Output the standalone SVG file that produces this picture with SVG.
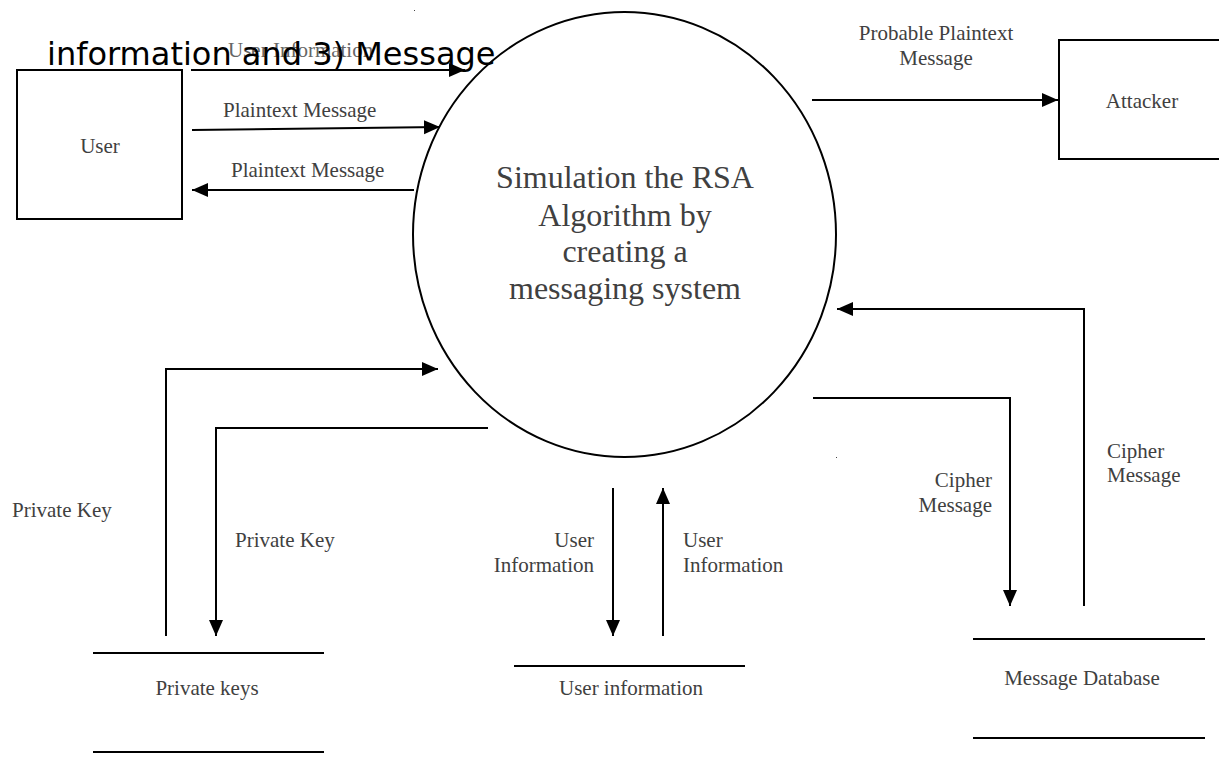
<svg xmlns="http://www.w3.org/2000/svg" width="1219" height="763" viewBox="0 0 1219 763">
<style>
.ln{fill:none;stroke:#000;stroke-width:2}
.lbl{font-family:"Liberation Serif",serif;font-size:21px;fill:#404040}
.mid{text-anchor:middle}
.end{text-anchor:end}
.big{font-family:"Liberation Serif",serif;font-size:32px;fill:#404040;text-anchor:middle}
</style>
<defs>
<marker id="ah" markerUnits="userSpaceOnUse" markerWidth="17" markerHeight="15" refX="16" refY="7" orient="auto">
<path d="M0,0 L16,7 L0,14 z" fill="#000"/>
</marker>
</defs>
<rect width="1219" height="763" fill="#fff"/>
<g id="process">
<ellipse class="ln" cx="624.5" cy="234.5" rx="211.5" ry="222.5"/>
<text class="big" x="625" y="188">Simulation the RSA</text>
<text class="big" x="625" y="226">Algorithm by</text>
<text class="big" x="625" y="262">creating a</text>
<text class="big" x="625" y="299">messaging system</text>
</g>
<g id="user">
<rect class="ln" x="17" y="70" width="165" height="149"/>
<text class="lbl mid" x="100" y="153">User</text>
</g>
<g id="attacker">
<rect class="ln" x="1059" y="40" width="170" height="119"/>
<text class="lbl mid" x="1142" y="108">Attacker</text>
</g>
<g id="private-keys">
<line class="ln" x1="93" y1="653" x2="324" y2="653"/>
<line class="ln" x1="93" y1="752" x2="324" y2="752"/>
<text class="lbl mid" x="207" y="695">Private keys</text>
</g>
<g id="user-information">
<line class="ln" x1="514" y1="666" x2="745" y2="666"/>
<text class="lbl mid" x="631" y="695">User information</text>
</g>
<g id="message-database">
<line class="ln" x1="973" y1="639" x2="1205" y2="639"/>
<line class="ln" x1="973" y1="738" x2="1205" y2="738"/>
<text class="lbl mid" x="1082" y="685">Message Database</text>
</g>
<g id="connectors">
<path class="ln" d="M191,70 H465" marker-end="url(#ah)"/>
<path class="ln" d="M192,130 L440,127" marker-end="url(#ah)"/>
<path class="ln" d="M414,190 H192" marker-end="url(#ah)"/>
<path class="ln" d="M812,100 H1058" marker-end="url(#ah)"/>
<path class="ln" d="M166,636 V369 H438" marker-end="url(#ah)"/>
<path class="ln" d="M488,428 H216 V636" marker-end="url(#ah)"/>
<path class="ln" d="M613,488 V636" marker-end="url(#ah)"/>
<path class="ln" d="M663,636 V488" marker-end="url(#ah)"/>
<path class="ln" d="M813,398 H1010 V606" marker-end="url(#ah)"/>
<path class="ln" d="M1084,606 V309 H837" marker-end="url(#ah)"/>
</g>
<g id="labels">
<text class="lbl" x="228" y="57" fill="#666" style="fill:#666">User Information</text>
<text class="lbl" x="223" y="117">Plaintext Message</text>
<text class="lbl" x="231" y="177">Plaintext Message</text>
<text class="lbl mid" x="936" y="40">Probable Plaintext</text>
<text class="lbl mid" x="936" y="65">Message</text>
<text class="lbl" x="12" y="517">Private Key</text>
<text class="lbl" x="235" y="547">Private Key</text>
<text class="lbl end" x="594" y="547">User</text>
<text class="lbl end" x="594" y="572">Information</text>
<text class="lbl" x="683" y="547">User</text>
<text class="lbl" x="683" y="572">Information</text>
<text class="lbl end" x="992" y="487">Cipher</text>
<text class="lbl end" x="992" y="512">Message</text>
<text class="lbl" x="1107" y="458">Cipher</text>
<text class="lbl" x="1107" y="482">Message</text>
</g>
<text x="47" y="65" font-family="DejaVu Sans, sans-serif" font-size="32" fill="#000">information and 3) Message</text>
<rect x="414" y="10" width="1" height="1" fill="#444"/>
<rect x="836" y="457" width="1" height="1" fill="#444"/>
</svg>
